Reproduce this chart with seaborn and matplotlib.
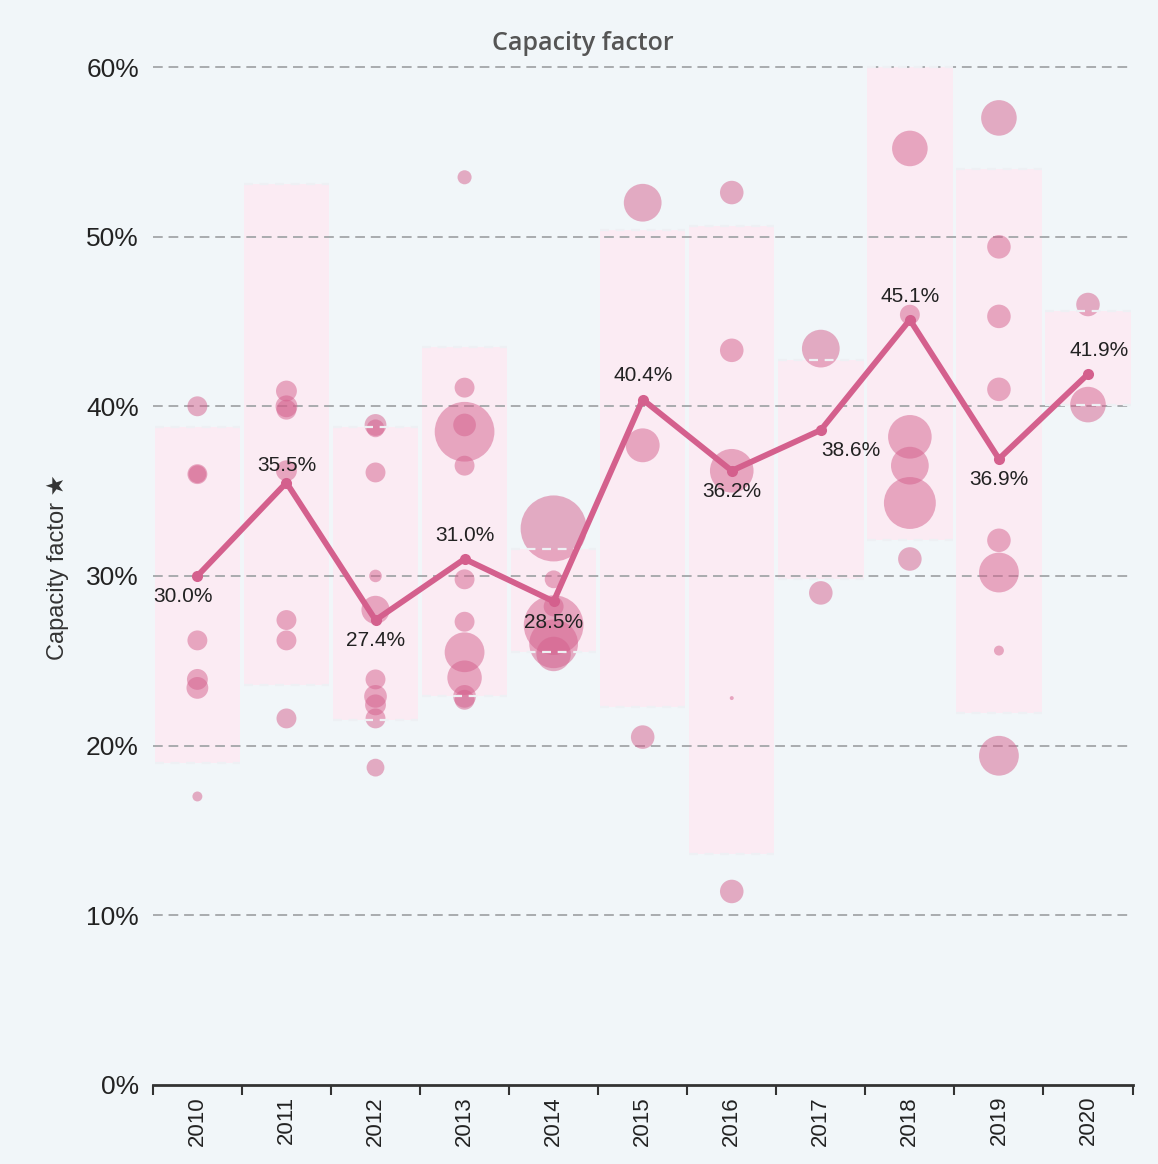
#!/usr/bin/env python
'''
Capacity factor by commissioning year: project bubbles, range boxes and weighted average.
'''
import matplotlib
matplotlib.use('Agg')
import matplotlib.pyplot as plt
import pandas as pd
import seaborn as sns

years = ['2010', '2011', '2012', '2013', '2014', '2015', '2016', '2017', '2018', '2019', '2020']
avg_cf = [30.0, 35.5, 27.4, 31.0, 28.5, 40.4, 36.2, 38.6, 45.1, 36.9, 41.9]
range_low = [19.0, 23.6, 21.5, 22.9, 25.5, 22.3, 13.6, 29.8, 32.1, 21.9, 40.1]
range_high = [38.8, 53.1, 38.8, 43.5, 31.6, 50.4, 50.6, 42.7, 60.0, 54.0, 45.6]

# individual projects
bubble_year = (['2010'] * 7 + ['2011'] * 7 + ['2012'] * 10 + ['2013'] * 11 + ['2014'] * 6
               + ['2015'] * 3 + ['2016'] * 5 + ['2017'] * 2 + ['2018'] * 6 + ['2019'] * 8 + ['2020'] * 2)
bubble_cf = [40.0, 36.0, 36.0, 26.2, 23.9, 23.4, 17.0,
             40.9, 40.0, 39.8, 36.2, 27.4, 26.2, 21.6,
             38.9, 38.7, 36.1, 30.0, 28.0, 23.9, 22.9, 22.4, 21.6, 18.7,
             53.5, 41.1, 38.5, 38.9, 36.5, 29.8, 27.3, 25.5, 24.0, 22.9, 22.7,
             32.8, 29.8, 28.2, 27.1, 26.0, 25.4,
             52.0, 37.7, 20.5,
             52.6, 43.3, 36.2, 22.8, 11.4,
             43.4, 29.0,
             55.2, 45.4, 38.2, 36.5, 34.3, 31.0,
             57.0, 49.4, 45.3, 41.0, 32.1, 30.2, 25.6, 19.4,
             46.0, 40.1]
bubble_mw = [100, 100, 80, 100, 110, 120, 25,
             110, 120, 100, 110, 100, 100, 100,
             120, 80, 100, 40, 200, 100, 130, 110, 100, 80,
             50, 100, 900, 130, 100, 100, 100, 400, 300, 130, 100,
             1100, 80, 100, 900, 600, 300,
             360, 290, 140,
             140, 140, 480, 4, 140,
             360, 140,
             320, 100, 480, 360, 680, 140,
             320, 140, 140, 140, 140, 400, 25, 400,
             140, 320]

bg = '#f1f6f9'
pink = '#d4608d'

pos = {y: i for i, y in enumerate(years)}
df = pd.DataFrame({'year': bubble_year, 'cf': bubble_cf, 'mw': bubble_mw})
df['x'] = df['year'].map(pos)
df_avg = pd.DataFrame({'x': range(len(years)), 'cf': avg_cf})

sns.set_style('white')
plt.rcParams['font.family'] = ['Liberation Sans', 'DejaVu Sans']

fig = plt.figure(figsize=(11.58, 11.64), dpi=100, facecolor=bg)
ax = fig.add_axes([0.132, 0.068, 0.846, 0.889])
ax.set_facecolor(bg)

# range boxes
for i in range(len(years)):
    ax.bar(i, range_high[i] - range_low[i], bottom=range_low[i], width=0.96,
           color='#fbebf3', zorder=1, linewidth=0)

# grid
for v in range(10, 70, 10):
    ax.axhline(v, color='#a9abae', linestyle=(0, (5, 3)), linewidth=1.4, zorder=2)

sns.scatterplot(data=df, x='x', y='cf', size='mw', sizes=(0, 2258), size_norm=(0, 1100),
                color=pink, alpha=0.5, linewidth=0, legend=False, ax=ax, zorder=3)

# box edges
for i in range(len(years)):
    for v in (range_low[i], range_high[i]):
        ax.hlines(v, i - 0.48, i + 0.48, color='#eef0f4', linestyle=(0, (4, 3)),
                  linewidth=1.6, zorder=4)

sns.lineplot(data=df_avg, x='x', y='cf', color=pink, linewidth=4.2, marker='o',
             markersize=8, markeredgewidth=0, ax=ax, zorder=5)

# label offsets in points (dx, dy)
offsets = [(-10, -15), (0, 12), (0, -15), (0, 17), (0, -15), (0, 17),
           (0, -15), (22, -15), (0, 17), (0, -15), (8, 17)]
for i, v in enumerate(avg_cf):
    dx, dy = offsets[i]
    ax.annotate(f'{v:.1f}%', (i, v), xytext=(dx, dy), textcoords='offset points',
                ha='center', va='center', fontsize=15, color='#222222', zorder=6)

ax.set_xlim(-0.5, len(years) - 0.5)
ax.set_ylim(0, 61)
ax.set_yticks(range(0, 70, 10))
ax.set_yticklabels([f'{v}%' for v in range(0, 70, 10)], fontsize=19, color='#222222')
ax.tick_params(axis='y', length=0, pad=10)

ax.set_xticks([i - 0.5 for i in range(len(years) + 1)])
ax.set_xticklabels([])
ax.set_xticks(range(len(years)), minor=True)
ax.set_xticklabels(years, minor=True, rotation=90, fontsize=16, color='#222222')
ax.tick_params(axis='x', which='major', bottom=True, length=7, width=1.5,
               color='#333333', direction='out')
ax.tick_params(axis='x', which='minor', bottom=True, length=0, pad=8)
ax.set_xlabel('')
ax.set_ylabel('Capacity factor \u2605', fontsize=17, color='#333333', labelpad=12)

for s in ['top', 'right', 'left']:
    ax.spines[s].set_visible(False)
ax.spines['bottom'].set_color('#333333')
ax.spines['bottom'].set_linewidth(2)

fig.text(0.503, 0.963, 'Capacity factor', ha='center', va='center', fontsize=18,
         fontweight='semibold', color='#555555', family=['Open Sans', 'DejaVu Sans'])

fig.savefig('out.png', dpi=100, facecolor=bg)
